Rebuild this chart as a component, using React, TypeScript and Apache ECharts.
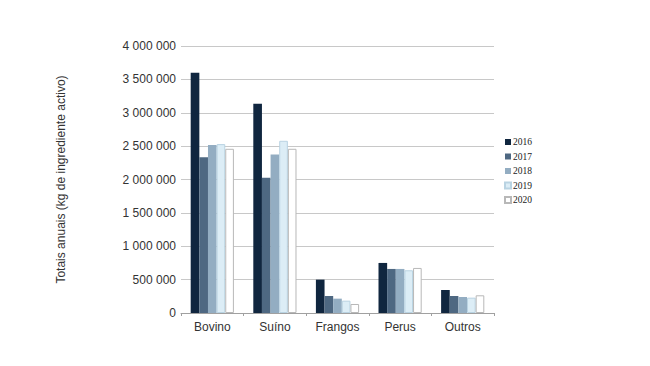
import React, { useEffect, useRef } from "react";
import * as echarts from "echarts";

const categories = ["Bovino", "Suíno", "Frangos", "Perus", "Outros"];
const years = ["2016", "2017", "2018", "2019", "2020"];
const v2016 = [3600000, 3135000, 500000, 750000, 345000];
const v2017 = [2335000, 2025000, 255000, 660000, 255000];
const v2018 = [2515000, 2375000, 215000, 660000, 240000];
const v2019 = [2530000, 2580000, 185000, 640000, 230000];
const v2020 = [2460000, 2460000, 135000, 675000, 265000];
const seriesValues = [v2016, v2017, v2018, v2019, v2020];
const colors = ["#10263f", "#4e6882", "#93adc2", "#dcedf6", "#ffffff"];
const borders = ["#10263f", "#4e6882", "#93adc2", "#b9d3e2", "#b8b8b8"];

export default function App() {
  const ref = useRef<HTMLDivElement>(null);
  useEffect(() => {
    if (!ref.current) return;
    const chart = echarts.init(ref.current, null, { renderer: "svg" });
    chart.setOption({
      animation: false,
      backgroundColor: "#ffffff",
      grid: { left: 181, right: 156, top: 46, bottom: 53 },
      legend: {
        orient: "vertical",
        left: 499,
        top: 132,
        itemWidth: 6,
        itemHeight: 6,
        itemGap: 4.5,
        icon: "rect",
        textStyle: {
          fontFamily: "Liberation Serif",
          fontSize: 9.5,
          lineHeight: 9,
          color: "#222",
          padding: [0, 0, 0, -3],
        },
        data: years,
      },
      xAxis: {
        type: "category",
        data: categories,
        axisLine: { show: true, lineStyle: { color: "#a0a0a0", width: 1 } },
        axisTick: { show: true, length: 3, lineStyle: { color: "#a0a0a0" } },
        axisLabel: {
          fontFamily: "Liberation Sans",
          fontSize: 12,
          color: "#333",
          margin: 8,
        },
      },
      yAxis: {
        type: "value",
        min: 0,
        max: 4000000,
        interval: 500000,
        name: "Totais anuais (kg de ingrediente activo)",
        nameLocation: "middle",
        nameGap: 114,
        nameTextStyle: {
          fontFamily: "Liberation Sans",
          fontSize: 12,
          color: "#333",
        },
        axisLine: { show: false },
        axisTick: { show: false },
        splitLine: { lineStyle: { color: "#c8c8c8", width: 1 } },
        axisLabel: {
          fontFamily: "Liberation Sans",
          fontSize: 12,
          color: "#333",
          margin: 5,
          formatter: (v: number) =>
            String(v).replace(/\B(?=(\d{3})+(?!\d))/g, " "),
        },
      },
      series: years.map((y, i) => ({
        name: y,
        type: "bar",
        data: seriesValues[i],
        barGap: "0%",
        barCategoryGap: "31%",
        itemStyle: {
          color: colors[i],
          borderColor: borders[i],
          borderWidth: i >= 3 ? 1 : 0,
        },
      })),
    });
    return () => chart.dispose();
  }, []);
  return (
    <div
      ref={ref}
      style={{ position: "fixed", left: 0, top: 0, width: 650, height: 366 }}
    />
  );
}
